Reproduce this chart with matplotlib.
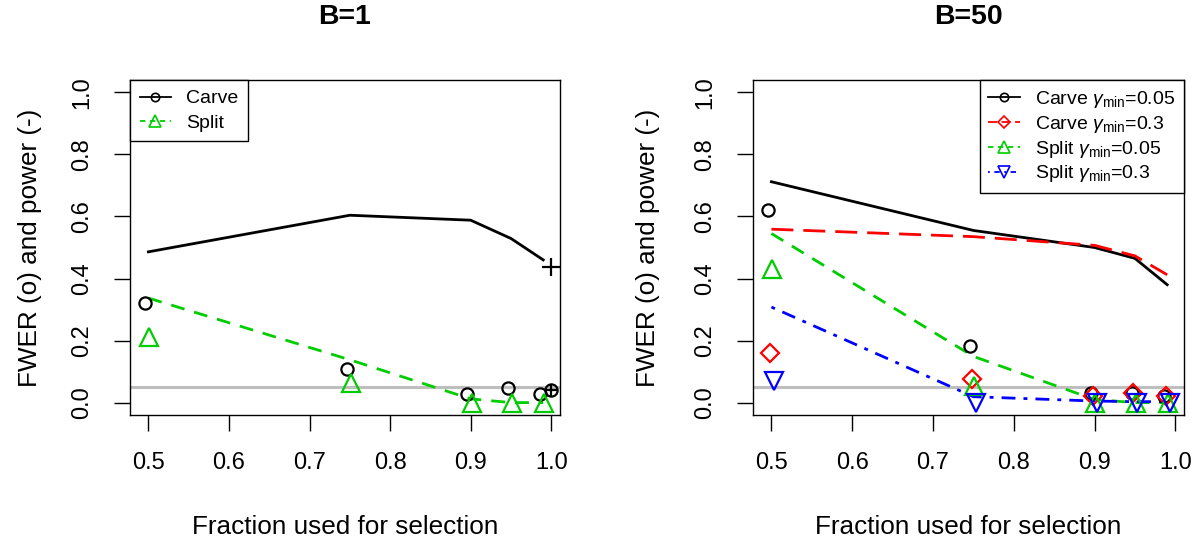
import matplotlib
matplotlib.use("Agg")
import matplotlib.pyplot as plt
from matplotlib.lines import Line2D

plt.rcParams['font.family'] = ['Liberation Sans', 'DejaVu Sans']
plt.rcParams['mathtext.fontset'] = 'custom'
plt.rcParams['mathtext.rm'] = 'Liberation Sans'
plt.rcParams['mathtext.it'] = 'Liberation Sans:italic'

# fraction used for selection
frac = [0.5, 0.75, 0.9, 0.95, 0.99]

# B=1
carve_power_b1 = [0.486, 0.604, 0.588, 0.529, 0.46]
carve_fwer_b1 = [0.32, 0.108, 0.029, 0.047, 0.029]
split_power_b1 = [0.337, 0.138, 0.012, 0.0, 0.0]
split_fwer_b1 = [0.213, 0.063, 0.0, 0.0, 0.0]
# fraction 1 (no split)
full_frac = 1.0
full_power = 0.438
full_fwer = 0.039

# B=50
carve05_power = [0.712, 0.555, 0.50, 0.465, 0.38]
carve3_power = [0.559, 0.535, 0.507, 0.473, 0.412]
split05_power = [0.545, 0.149, 0.01, 0.0, 0.0]
split3_power = [0.308, 0.019, 0.005, 0.003, 0.003]
carve05_fwer = [0.62, 0.184, 0.031, 0.03, 0.02]
carve3_fwer = [0.16, 0.075, 0.02, 0.03, 0.02]
split05_fwer = [0.43, 0.053, 0.0, 0.0, 0.0]
split3_fwer = [0.07, 0.0, 0.0, 0.0, 0.0]

alpha = 0.05

GREEN = '#00CD00'
lw = 2.0
mew = 1.6
dash_green = (5, 3.6)
dash_red = (7.9, 3.6)
dash_blue = (1.4, 2.9, 5, 2.9)


def shift(xs, d):
    return [x + d for x in xs]


fig = plt.figure(figsize=(12, 5.44), dpi=100)
ax1 = fig.add_axes([130 / 1200, 1 - 415 / 544, 430 / 1200, 335 / 544])
ax2 = fig.add_axes([753 / 1200, 1 - 415 / 544, 431 / 1200, 335 / 544])

# ---- left panel: B=1
ax1.axhline(alpha, color='#BEBEBE', lw=2.2, zorder=1)
ax1.plot(frac, carve_power_b1, color='black', lw=lw, zorder=3)
ax1.plot(frac, split_power_b1, color=GREEN, lw=lw, dashes=dash_green, zorder=3)
ax1.plot(shift(frac, -0.004), carve_fwer_b1, 'o', ms=8.8, mfc='none', mec='black', mew=mew, zorder=4)
ax1.plot(shift(frac, 0.001), split_fwer_b1, '^', ms=13, mfc='none', mec=GREEN, mew=mew, zorder=4)
ax1.plot([full_frac], [full_power], '+', ms=13, mec='black', mew=mew, zorder=4)
ax1.plot([full_frac], [full_fwer], 'o', ms=8.8, mfc='none', mec='black', mew=mew, zorder=4)
ax1.plot([full_frac], [full_fwer], '+', ms=8.8, mec='black', mew=mew, zorder=4)

leg_kw = dict(borderaxespad=0, fontsize=14, handlelength=1.6, handletextpad=0.8,
              borderpad=0.5, labelspacing=0.35, fancybox=False, edgecolor='black',
              framealpha=1, numpoints=1)

h1 = [Line2D([], [], color='black', lw=1.3, marker='o', ms=6, mfc='none', mew=1.2),
      Line2D([], [], color=GREEN, lw=1.3, dashes=(3, 2.5), marker='^', ms=8, mfc='none', mew=1.2)]
leg1 = ax1.legend(h1, ['Carve', 'Split'], loc='upper left', **leg_kw)
leg1.get_frame().set_linewidth(1.0)

# ---- right panel: B=50
ax2.axhline(alpha, color='#BEBEBE', lw=2.2, zorder=1)
ax2.plot(frac, carve05_power, color='black', lw=lw, zorder=3)
ax2.plot(frac, carve3_power, color='red', lw=lw, dashes=dash_red, zorder=3)
ax2.plot(frac, split05_power, color=GREEN, lw=lw, dashes=dash_green, zorder=3)
ax2.plot(frac, split3_power, color='blue', lw=lw, dashes=dash_blue, zorder=3)
ax2.plot(shift(frac, -0.004), carve05_fwer, 'o', ms=8.8, mfc='none', mec='black', mew=mew, zorder=4)
ax2.plot(shift(frac, -0.002), carve3_fwer, 'D', ms=9, mfc='none', mec='red', mew=mew, zorder=4)
ax2.plot(shift(frac, 0.001), split05_fwer, '^', ms=13, mfc='none', mec=GREEN, mew=mew, zorder=4)
ax2.plot(shift(frac, 0.003), split3_fwer, 'v', ms=13, mfc='none', mec='blue', mew=mew, zorder=4)

h2 = [Line2D([], [], color='black', lw=1.3, marker='o', ms=6, mfc='none', mew=1.2),
      Line2D([], [], color='red', lw=1.3, dashes=(5, 2.5), marker='D', ms=6, mfc='none', mew=1.2),
      Line2D([], [], color=GREEN, lw=1.3, dashes=(3, 2.5), marker='^', ms=8, mfc='none', mew=1.2),
      Line2D([], [], color='blue', lw=1.3, dashes=(1, 2.5, 3, 2.5), marker='v', ms=8, mfc='none', mew=1.2)]
labels2 = [r'Carve $\gamma_{\mathrm{min}}$=0.05', r'Carve $\gamma_{\mathrm{min}}$=0.3',
           r'Split $\gamma_{\mathrm{min}}$=0.05', r'Split $\gamma_{\mathrm{min}}$=0.3']
leg_kw2 = dict(leg_kw, borderpad=0.45, labelspacing=0.2)
leg2 = ax2.legend(h2, labels2, loc='upper right', **leg_kw2)
leg2.get_frame().set_linewidth(1.0)

# ---- common axes styling
for ax, title, ylab_x in [(ax1, 'B=1', -0.2326), (ax2, 'B=50', -0.2436)]:
    ax.set_xlim(0.4772, 1.0108)
    ax.set_ylim(-0.04, 1.04)
    ax.set_xticks([0.5, 0.6, 0.7, 0.8, 0.9, 1.0])
    ax.set_yticks([0.0, 0.2, 0.4, 0.6, 0.8, 1.0])
    ax.set_xticklabels(['0.5', '0.6', '0.7', '0.8', '0.9', '1.0'])
    ax.set_yticklabels(['0.0', '0.2', '0.4', '0.6', '0.8', '1.0'])
    ax.tick_params(direction='out', length=11.5, width=1.0, labelsize=17, pad=15)
    ax.tick_params(axis='y', labelrotation=90)
    for lab in ax.get_yticklabels():
        lab.set_va('center')
    for s in ax.spines.values():
        s.set_linewidth(1.0)
    ax.set_xlabel('Fraction used for selection', fontsize=18.8)
    ax.xaxis.label.set_va('center')
    ax.xaxis.set_label_coords(0.5, -0.334)
    ax.set_ylabel('FWER (o) and power (-)', fontsize=18.8)
    ax.yaxis.label.set_va('center')
    ax.yaxis.set_label_coords(ylab_x, 0.5)
    ax.text(0.5, 1.188, title, transform=ax.transAxes, ha='center', va='center',
            fontsize=20.5, fontweight='bold')

fig.savefig('out.png', dpi=100)
